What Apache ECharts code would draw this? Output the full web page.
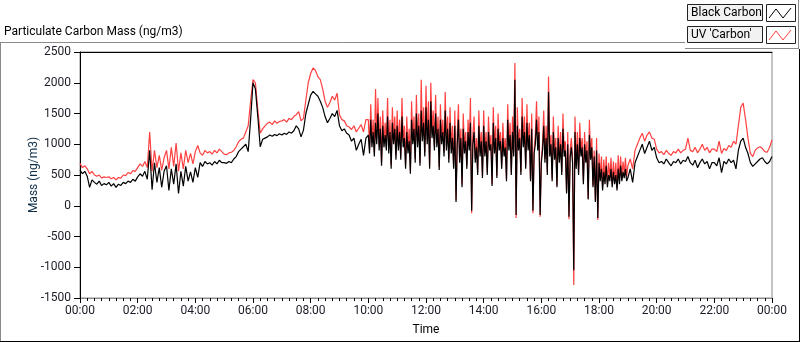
<!DOCTYPE html>
<html>
<head>
<meta charset="utf-8">
<script src="https://cdn.jsdelivr.net/npm/echarts@6/dist/echarts.min.js"></script>
<style>
  html, body { margin: 0; padding: 0; background: #fff; }
  #chart { width: 800px; height: 342px; }
</style>
</head>
<body>
<div id="chart"></div>
<script>
// sampling: 5 min until 10:00, 2.5 min over the busy 10:00-19:00 span, 5 min after
const STEP_MIN = 5;
const BUSY_STEP_MIN = 2.5;
const BUSY_START_MIN = 600;
const LATE_START_MIN = 1140;

// 00:00 - 09:55 (one row per hour)
const blackEarly = [
  580, 520, 560, 480, 300, 420, 380, 350, 400, 330, 360, 340,
  380, 320, 360, 300, 350, 330, 380, 360, 400, 380, 430, 400,
  470, 520, 480, 560, 430, 900, 260, 700, 380, 620, 300, 560,
  650, 250, 600, 350, 680, 200, 560, 320, 640, 400, 550, 380,
  620, 460, 700, 640, 720, 680, 700, 660, 720, 680, 740, 700,
  700, 690, 720, 700, 760, 800, 880, 920, 960, 1000, 880, 1400,
  2000, 1900, 1450, 960, 1080, 1100, 1120, 1150, 1130, 1160, 1140, 1170,
  1150, 1180, 1160, 1200, 1180, 1220, 1300, 1250, 1120, 1230, 1500, 1650,
  1800, 1860, 1820, 1780, 1700, 1600, 1450, 1350, 1420, 1500, 1450, 1550,
  1300, 1220, 1250, 1180, 1150, 1050, 1100, 900, 1000, 1080, 820, 1100
];
const uvEarly = [
  690, 620, 650, 600, 520, 560, 500, 480, 500, 450, 470, 460,
  470, 440, 460, 420, 460, 450, 500, 490, 540, 520, 570, 560,
  620, 680, 640, 720, 620, 1200, 560, 900, 620, 820, 580, 780,
  900, 600, 950, 640, 1020, 560, 860, 600, 900, 700, 850, 680,
  880, 980, 860, 820, 900, 860, 880, 840, 900, 860, 920, 880,
  840, 830, 860, 870, 900, 960, 1040, 1080, 1100, 1200, 1300, 1700,
  2050, 2000, 1560, 1180, 1250, 1300, 1340, 1360, 1320, 1380, 1340, 1370,
  1380, 1400, 1360, 1420, 1400, 1450, 1480, 1530, 1380, 1420, 1720, 2000,
  2150, 2240, 2200, 2100, 2050, 1900, 1700, 1600, 1680, 1780, 1720, 1830,
  1480, 1400, 1380, 1300, 1280, 1240, 1300, 1200, 1260, 1320, 1200, 1400
];

// 10:00 - 18:57.5 (one row per hour)
const blackBusy = [
  1150, 850, 1400, 950, 1200, 800, 1350, 1000, 1500, 900, 1250, 650, 1300, 950, 1150, 900, 1450, 850, 1200, 600, 1350, 1000, 1250, 750,
  1300, 900, 1200, 750, 1450, 950, 1100, 600, 1200, 850, 1050, 520, 1400, 1000, 1250, 700, 1500, 950, 1300, 650, 1550, 1050, 1350, 800,
  1600, 1000, 1400, 600, 1700, 1100, 1300, 900, 1500, 950, 1250, 580, 1400, 1000, 1200, 800, 1550, 900, 1250, 700, 1350, 850, 1100, 600,
  1300, 60, 1000, 1400, 700, 1100, 300, 1250, 850, 1050, 600, 1200, 900, 1350, -80, 1000, 1200, 700, 950, 500, 1300, 800, 1050, 450,
  1300, 800, 1050, 500, 1200, 900, 1000, 320, 1350, 850, 1100, 450, 1250, 900, 1050, 600, 1100, 800, 950, 400, 1400, 900, 1150, 500,
  1200, 800, 2050, -150, 1300, 900, 1100, 500, 1450, 950, 1200, 600, 1350, 900, 1150, 400, 1250, -80, 850, 1000, 1400, 900, 1200, -150,
  700, 900, 1300, 700, 1100, 500, 1850, 800, 1000, 400, 1200, 750, 950, 300, 1100, 700, 1000, 500, 1250, 800, 900, 200, 1000, -180,
  800, 950, 700, -1050, 1200, 600, 1000, 500, 1100, 800, 950, 350, 1000, 700, 900, 100, 1150, 750, 950, 300, 800, 60, 900, -200,
  700, 400, 600, 250, 550, 350, 650, 300, 500, 400, 600, 300, 550, 350, 500, 250, 600, 350, 650, 400, 550, 450, 600, 400
];
const uvBusy = [
  1400, 920, 1650, 1030, 1400, 870, 1900, 1080, 1750, 970, 1450, 710, 1550, 1020, 1350, 970, 1750, 920, 1400, 660, 1600, 1080, 1450, 820,
  1550, 970, 1400, 810, 1750, 1030, 1300, 650, 1450, 920, 1250, 570, 1700, 1080, 1450, 760, 1800, 1030, 1500, 700, 2050, 1130, 1600, 870,
  1950, 1080, 1700, 650, 2000, 1180, 1550, 970, 1800, 1030, 1450, 630, 1650, 1080, 1400, 870, 1850, 970, 1450, 760, 1600, 920, 1300, 650,
  1550, 90, 1150, 1650, 760, 1250, 340, 1500, 920, 1200, 650, 1400, 970, 1750, -120, 1150, 1450, 760, 1100, 550, 1550, 870, 1200, 490,
  1550, 870, 1200, 550, 1450, 970, 1150, 350, 1600, 920, 1300, 490, 1500, 970, 1200, 650, 1350, 870, 1100, 440, 1650, 970, 1350, 550,
  1450, 870, 2320, -200, 1600, 970, 1250, 550, 1750, 1030, 1450, 650, 1650, 970, 1350, 440, 1500, -120, 920, 1150, 1700, 970, 1450, -180,
  760, 1000, 1550, 760, 1300, 550, 2100, 870, 1150, 440, 1450, 810, 1100, 330, 1300, 760, 1200, 550, 1500, 870, 1050, 230, 1200, -220,
  900, 1100, 760, -1290, 1450, 650, 1200, 550, 1350, 870, 1100, 390, 1200, 760, 1050, 120, 1400, 810, 1100, 330, 900, 80, 1100, -230,
  850, 460, 800, 300, 750, 400, 800, 350, 700, 460, 780, 350, 720, 400, 700, 290, 820, 400, 800, 460, 720, 520, 780, 470
];

// 19:00 - 24:00 (one row per hour, last value at 24:00)
const blackLate = [
  450, 600, 380, 700, 800, 900, 1000, 850, 950, 1050, 900, 950,
  780, 700, 720, 680, 760, 700, 650, 720, 700, 760, 680, 740,
  720, 800, 700, 660, 740, 620, 700, 760, 680, 720, 600, 700,
  700, 650, 780, 540, 720, 680, 760, 700, 740, 600, 900, 1050,
  1100, 950, 850, 700, 640, 680, 720, 760, 780, 720, 680, 720,
  800
];
const uvLate = [
  650, 760, 600, 900, 1000, 1100, 1180, 1050, 1150, 1200, 1100, 1080,
  920, 860, 880, 830, 900, 850, 820, 880, 860, 920, 860, 900,
  920, 1100, 900, 880, 950, 860, 920, 1000, 900, 950, 860, 920,
  920, 880, 1050, 850, 930, 900, 980, 950, 1050, 1000, 1300, 1600,
  1670, 1400, 1100, 850, 800, 900, 940, 960, 930, 880, 870, 950,
  1070
];

const seriesNames = ["Black Carbon", "UV 'Carbon'"];
const yTicks = [-1500, -1000, -500, 0, 500, 1000, 1500, 2000, 2500];

const FONT = "Roboto";
const LABEL_COLOR = "#1c1c28";

const toPairs = (early, busy, late) => [
  ...early.map((v, i) => [i * STEP_MIN, v]),
  ...busy.map((v, i) => [BUSY_START_MIN + i * BUSY_STEP_MIN, v]),
  ...late.map((v, i) => [LATE_START_MIN + i * STEP_MIN, v]),
];

const formatClock = (minutes) => {
  const m = Math.round(minutes) % 1440;
  const hh = String(Math.floor(m / 60)).padStart(2, "0");
  const mm = String(m % 60).padStart(2, "0");
  return hh + ":" + mm;
};

// LabVIEW style legend boxes, drawn top right
const legendBox = (top, name, color) => [
  {
    type: "rect",
    shape: { x: 687.5, y: top + 0.5, width: 75, height: 16 },
    style: { fill: "#f2f2f2", stroke: "#222", lineWidth: 1 },
  },
  {
    type: "text",
    x: 691,
    y: top + 9,
    style: { text: name, font: "12px " + FONT, fill: "#000", verticalAlign: "middle" },
  },
  {
    type: "rect",
    shape: { x: 766.5, y: top + 0.5, width: 29, height: 17 },
    style: { fill: "#fff", stroke: "#222", lineWidth: 1 },
  },
  {
    type: "polyline",
    shape: {
      points: [[769, top + 14], [776, top + 5], [783, top + 14], [791, top + 4]],
    },
    style: { stroke: color, lineWidth: 1, fill: null },
  },
];

const chart = echarts.init(document.getElementById("chart"), null, { renderer: "canvas" });

chart.setOption({
  animation: false,
  backgroundColor: "#fff",
  textStyle: { fontFamily: FONT },
  grid: {
    left: 80,
    right: 28,
    top: 52,
    bottom: 44,
    show: true,
    borderColor: "#8a8a8a",
    borderWidth: 1,
  },
  xAxis: [
    {
      type: "value",
      min: 0,
      max: 1440,
      interval: 120,
      name: "Time",
      nameLocation: "middle",
      nameGap: 26,
      nameTextStyle: { color: "#000", fontSize: 12, fontFamily: FONT },
      axisLine: { show: true, onZero: false, lineStyle: { color: "#8a8a8a", width: 1 } },
      axisTick: { show: true, length: 5, lineStyle: { color: "#000" } },
      minorTick: { show: true, splitNumber: 8, length: 3, lineStyle: { color: "#000" } },
      splitLine: { show: false },
      axisLabel: {
        color: LABEL_COLOR,
        fontSize: 12,
        fontFamily: FONT,
        margin: 7,
        formatter: (v) => formatClock(v),
      },
    },
    {
      type: "value",
      position: "top",
      min: 0,
      max: 1440,
      axisLine: { show: true, onZero: false, lineStyle: { color: "#000", width: 1 } },
      axisTick: { show: false },
      minorTick: { show: false },
      axisLabel: { show: false },
      splitLine: { show: false },
    },
  ],
  yAxis: {
    type: "value",
    min: yTicks[0],
    max: yTicks[yTicks.length - 1],
    interval: 500,
    name: "Mass (ng/m3)",
    nameLocation: "middle",
    nameGap: 40,
    nameMoveOverlap: false,
    nameTextStyle: { color: "#10304a", fontSize: 12, fontFamily: FONT },
    axisLine: { show: true, onZero: false, lineStyle: { color: "#000", width: 1 } },
    axisTick: { show: true, length: 6, lineStyle: { color: "#000" } },
    splitLine: { show: false },
    axisLabel: {
      color: LABEL_COLOR,
      fontSize: 12,
      fontFamily: FONT,
      margin: 9,
      formatter: (v) => String(v),
    },
  },
  series: [
    {
      type: "line",
      name: seriesNames[1],
      data: toPairs(uvEarly, uvBusy, uvLate),
      showSymbol: false,
      lineStyle: { color: "#ff4040", width: 1.2 },
      itemStyle: { color: "#ff4040" },
      z: 2,
    },
    {
      type: "line",
      name: seriesNames[0],
      data: toPairs(blackEarly, blackBusy, blackLate),
      showSymbol: false,
      lineStyle: { color: "#000", width: 1.2 },
      itemStyle: { color: "#000" },
      z: 3,
    },
  ],
  graphic: [
    // outer panel frame
    { type: "line", shape: { x1: 0.5, y1: 42, x2: 0.5, y2: 342 }, style: { stroke: "#8a8a8a", lineWidth: 1 } },
    { type: "line", shape: { x1: 0, y1: 42.5, x2: 685, y2: 42.5 }, style: { stroke: "#8a8a8a", lineWidth: 1 } },
    { type: "line", shape: { x1: 0, y1: 341.5, x2: 800, y2: 341.5 }, style: { stroke: "#000", lineWidth: 1 } },
    { type: "line", shape: { x1: 799.5, y1: 49, x2: 799.5, y2: 342 }, style: { stroke: "#000", lineWidth: 1 } },
    // legend panel edges
    { type: "line", shape: { x1: 798.5, y1: 0, x2: 798.5, y2: 49 }, style: { stroke: "#8a8a8a", lineWidth: 1 } },
    { type: "line", shape: { x1: 685, y1: 48.5, x2: 799, y2: 48.5 }, style: { stroke: "#8a8a8a", lineWidth: 1 } },
    {
      type: "text",
      x: 4,
      y: 32,
      style: {
        text: "Particulate Carbon Mass (ng/m3)",
        font: "12px " + FONT,
        fill: "#000",
        verticalAlign: "middle",
      },
    },
    ...legendBox(4, seriesNames[0], "#000"),
    ...legendBox(26, seriesNames[1], "#ff4040"),
  ],
});
</script>
</body>
</html>
